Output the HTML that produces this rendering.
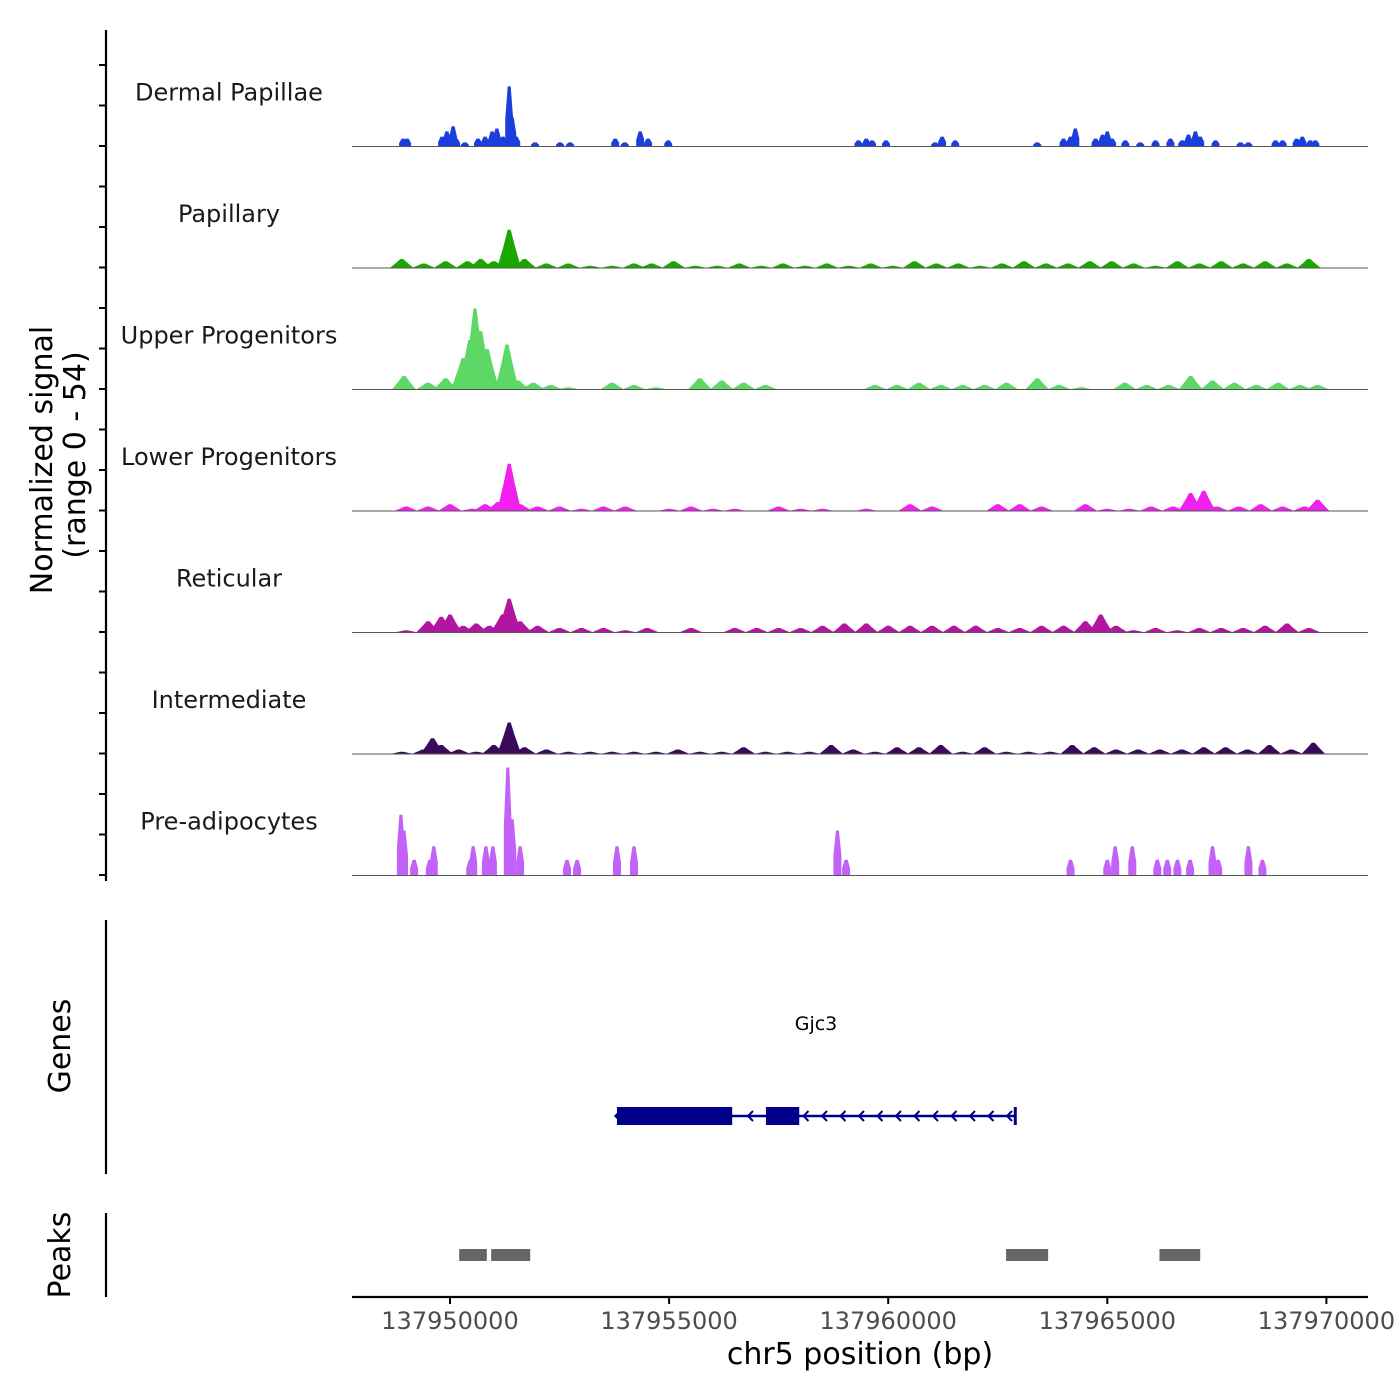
<!DOCTYPE html>
<html><head><meta charset="utf-8"><style>
html,body{margin:0;padding:0;background:#fff;}
svg{display:block;font-family:"DejaVu Sans","Liberation Sans",sans-serif;}
</style></head><body>
<svg id="chart" width="1400" height="1400" viewBox="0 0 1400 1400" xmlns="http://www.w3.org/2000/svg">
<g id="left-axes"></g>
<g id="tracks"></g>
<g id="genes"></g>
<g id="peaks"></g>
<g id="xaxis"></g>
<text transform="translate(52,460) rotate(-90)" text-anchor="middle" font-size="30" fill="#000">Normalized signal</text>
<text transform="translate(85,455) rotate(-90)" text-anchor="middle" font-size="30" fill="#000">(range 0 - 54)</text>
<text transform="translate(70,1046) rotate(-90)" text-anchor="middle" font-size="30" fill="#000">Genes</text>
<text transform="translate(70,1255) rotate(-90)" text-anchor="middle" font-size="30" fill="#000">Peaks</text>
<text x="860" y="1364" text-anchor="middle" font-size="30" fill="#000">chr5 position (bp)</text>
</svg>
<script>
// positions are kb offsets from 137,950,000 ; values in normalized signal units
const REGION_ORIGIN = 137950000;
const trackNames = ["Dermal Papillae","Papillary","Upper Progenitors","Lower Progenitors","Reticular","Intermediate","Pre-adipocytes"];
const trackColors = ["#1a3fdc","#1aa800","#5dd866","#f020ee","#b0169f","#3a0a58","#c262f8"];
const dpPos = [-1.07,-0.98,-0.18,-0.07,0.07,0.14,0.34,0.64,0.80,0.96,1.07,1.21,1.35,1.42,1.51,1.94,2.51,2.74,3.77,3.99,4.34,4.52,4.98,9.32,9.50,9.63,9.95,11.07,11.23,11.53,13.40,14.00,14.16,14.27,14.73,14.89,15.00,15.11,15.41,15.75,16.10,16.44,16.71,16.85,17.01,17.12,17.47,18.04,18.22,18.84,19.00,19.32,19.45,19.63,19.75];
const dpVal = [3.5,3.5,4.4,6.7,9,3.5,1.8,3.5,4.4,6.7,8,4.4,26.7,13,4.4,1.8,1.8,1.8,3.5,1.8,6.7,3.5,2.7,2.7,3.5,2.7,2.7,1.8,4.4,2.7,1.8,3.5,4.4,8,3.5,5.3,6.7,3.5,2.7,1.8,2.7,3.5,2.7,5.3,6.7,4.4,2.7,1.8,1.8,2.7,2.7,3.5,4.4,2.7,2.7];
const papPos = [-1.1,-0.6,-0.1,0.4,0.7,1.0,1.35,1.7,2.2,2.7,3.2,3.7,4.2,4.6,5.1,5.6,6.1,6.6,7.1,7.6,8.1,8.6,9.1,9.6,10.1,10.6,11.1,11.6,12.1,12.6,13.1,13.6,14.1,14.6,15.1,15.6,16.1,16.6,17.1,17.6,18.1,18.6,19.1,19.6];
const papVal = [4,2,3,3,4,3,17,4,2,2,1,1,2,2,3,1,1,2,1,2,1,2,1,2,1,3,2,2,1,2,3,2,2,3,3,2,1,3,2,3,2,3,2,4];
const upPos = [-1.05,-0.5,-0.1,0.3,0.45,0.57,0.7,0.85,1.0,1.3,1.55,1.9,2.3,2.7,3.2,3.7,4.2,4.7,5.2,5.7,6.2,6.7,7.2,7.7,8.2,8.7,9.2,9.7,10.2,10.7,11.2,11.7,12.2,12.7,13.4,13.9,14.4,14.9,15.4,15.9,16.4,16.9,17.4,17.9,18.4,18.9,19.4,19.8];
const upVal = [6,3,5,14,22,36,26,18,4,20,4,3,2,1,0,3,2,1,0,5,4,3,2,0,0,0,0,2,2,3,2,2,2,3,5,2,1,0,3,2,2,6,4,3,2,3,2,2];
const lpPos = [-1.0,-0.5,0,0.5,0.8,1.1,1.35,1.6,2.0,2.5,3.0,3.5,4.0,4.5,5.0,5.5,6.0,6.5,7.0,7.5,8.0,8.5,9.0,9.5,10.0,10.5,11.0,11.5,12.0,12.5,13.0,13.5,14.0,14.5,15.0,15.5,16.0,16.5,16.9,17.2,17.5,18.0,18.5,19.0,19.5,19.8];
const lpVal = [2,2,3,1,3,4,21,3,2,2,1,2,2,0,1,2,1,1,0,2,1,1,0,1,0,3,2,0,0,3,3,2,0,3,1,1,2,2,8,9,2,2,3,2,2,5];
const retPos = [-1.0,-0.5,-0.2,0.0,0.3,0.6,0.9,1.2,1.35,1.6,2.0,2.5,3.0,3.5,4.0,4.5,5.0,5.5,6.0,6.5,7.0,7.5,8.0,8.5,9.0,9.5,10.0,10.5,11.0,11.5,12.0,12.5,13.0,13.5,14.0,14.5,14.85,15.2,15.6,16.1,16.6,17.1,17.6,18.1,18.6,19.1,19.6];
const retVal = [1,5,7,8,3,4,3,8,15,5,3,2,2,2,1,2,0,2,0,2,2,2,2,3,4,4,3,3,3,3,3,2,2,3,3,5,8,3,1,2,1,2,2,2,3,4,2];
const intPos = [-1.1,-0.6,-0.4,-0.2,0.2,0.6,1.0,1.35,1.7,2.2,2.7,3.2,3.7,4.2,4.7,5.2,5.7,6.2,6.7,7.2,7.7,8.2,8.7,9.2,9.7,10.2,10.7,11.2,11.7,12.2,12.7,13.2,13.7,14.2,14.7,15.2,15.7,16.2,16.7,17.2,17.7,18.2,18.7,19.2,19.7];
const intVal = [1,2,7,4,2,1,4,14,3,2,1,1,1,1,1,2,1,1,3,1,1,1,4,2,1,3,3,4,1,3,1,1,1,4,3,2,2,2,2,3,3,2,4,2,5];
const prePos = [-1.12,-1.05,-0.82,-0.46,-0.37,0.46,0.53,0.82,0.91,0.98,1.32,1.42,1.60,2.67,2.90,3.81,4.20,8.84,9.04,14.16,15.00,15.18,15.57,16.14,16.37,16.60,16.89,17.40,17.53,18.22,18.54];
const preVal = [27,20,7,7,13,7,13,13,7,13,48,25,13,7,7,13,13,20,7,7,7,13,13,7,7,7,7,13,7,13,7];
const trackPos = [dpPos,papPos,upPos,lpPos,retPos,intPos,prePos];
const trackVal = [dpVal,papVal,upVal,lpVal,retVal,intVal,preVal];
const trackBlocky = [true,false,false,false,false,false,true];
const xTicks = [137950000,137955000,137960000,137965000,137970000];
const geneName = "Gjc3";
const geneStartKb = 3.81, geneEndKb = 12.90;
const exonStarts = [3.81,7.21];
const exonEnds = [6.44,7.97];
const peakStarts = [0.21,0.94,12.69,16.19];
const peakEnds = [0.84,1.83,13.65,17.12];

const NS="http://www.w3.org/2000/svg";
const X0=352,X1=1368;
function xs(kb){return 450+kb*43.82;}
function xbp(bp){return xs((bp-REGION_ORIGIN)/1000);}
const base0=146.5, trackH=121.5, yMax=54;
function ys(i,v){return base0+i*trackH - v*(trackH/yMax);}
function mk(tag,attrs,parent){const e=document.createElementNS(NS,tag);for(const k in attrs)e.setAttribute(k,attrs[k]);parent.appendChild(e);return e;}

const gL=document.getElementById('left-axes');
mk('line',{x1:106,y1:30,x2:106,y2:881,stroke:'#000','stroke-width':2.2},gL);
for(let i=0;i<=20;i++){const y=875-i*40.5;mk('line',{x1:99,y1:y,x2:106,y2:y,stroke:'#000','stroke-width':2},gL);}
mk('line',{x1:106,y1:920,x2:106,y2:1174,stroke:'#000','stroke-width':2.2},gL);
mk('line',{x1:106,y1:1213,x2:106,y2:1297,stroke:'#000','stroke-width':2.2},gL);

const gT=document.getElementById('tracks');
trackNames.forEach((nm,i)=>{
  const g=mk('g',{},gT);
  
  
  const base=base0+i*trackH;
  const lbl=mk('text',{x:229,y:base-46,'text-anchor':'middle','font-size':24,fill:'#1a1a1a'},g);
  lbl.textContent=nm;
  
  
  const P=trackPos[i],V=trackVal[i];
  for(let k=0;k<P.length;k++){
    const c=xs(P[k]),top=ys(i,V[k]);
    let pts;
    if(trackBlocky[i]){
      const w=4,tw=1.5,shoulder=base-(base-top)*0.45;
      pts=[[c-w,base],[c-w,shoulder],[c-tw,top],[c+tw,top],[c+w,shoulder],[c+w,base]];
    } else {
      const w=12;
      pts=[[c-w,base],[c-w*0.45,base-(base-top)*0.6],[c-1.5,top],[c+1.5,top],[c+w*0.45,base-(base-top)*0.6],[c+w,base]];
    }
    const p=mk('polygon',{points:pts.map(q=>q[0].toFixed(1)+','+q[1].toFixed(1)).join(' '),fill:trackColors[i]},g);
    
    
  }
  const bl=mk('line',{x1:X0,y1:base,x2:X1,y2:base,stroke:'#555','stroke-width':1},g);
  
  
});

const gG=document.getElementById('genes');
const gl=mk('text',{x:816,y:1030,'text-anchor':'middle','font-size':19,fill:'#000'},gG);
gl.textContent=geneName;


const gy=1116;
mk('line',{x1:xs(geneStartKb),y1:gy,x2:xs(geneEndKb),y2:gy,stroke:'#00008b','stroke-width':2.5},gG);
for(let k=0;k<exonStarts.length;k++){
  const r=mk('rect',{x:xs(exonStarts[k]),y:gy-9,width:xs(exonEnds[k])-xs(exonStarts[k]),height:18,fill:'#00008b'},gG);
  
  
}
mk('line',{x1:xs(geneEndKb),y1:gy-9,x2:xs(geneEndKb),y2:gy+9,stroke:'#00008b','stroke-width':3},gG);
for(let x=748;x<1010;x+=18.5){
  if(x>xs(exonStarts[1])-4&&x<xs(exonEnds[1])+4)continue;
  mk('polyline',{points:`${x+5},${gy-5} ${x},${gy} ${x+5},${gy+5}`,fill:'none',stroke:'#00008b','stroke-width':2},gG);
}
mk('polygon',{points:`${xs(geneStartKb)-3},${gy} ${xs(geneStartKb)+2},${gy-5} ${xs(geneStartKb)+2},${gy+5}`,fill:'#00008b'},gG);

const gP=document.getElementById('peaks');
for(let k=0;k<peakStarts.length;k++){
  const r=mk('rect',{x:xs(peakStarts[k]),y:1249,width:xs(peakEnds[k])-xs(peakStarts[k]),height:12,fill:'#666'},gP);
  
  
}

const gX=document.getElementById('xaxis');
mk('line',{x1:X0,y1:1297,x2:X1,y2:1297,stroke:'#000','stroke-width':2.2},gX);
xTicks.forEach(t=>{
  const x=xbp(t);
  mk('line',{x1:x,y1:1297,x2:x,y2:1304,stroke:'#000','stroke-width':2},gX);
  const tl=mk('text',{x:x,y:1329,'text-anchor':'middle','font-size':24,fill:'#4d4d4d'},gX);
  tl.textContent=String(t);
  
  
});
</script>
</body></html>
